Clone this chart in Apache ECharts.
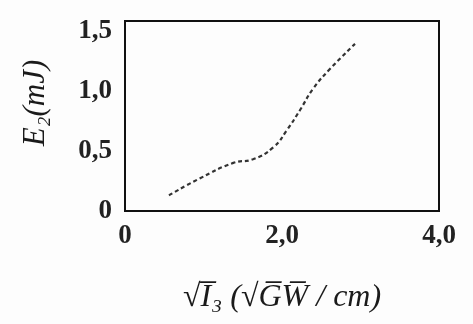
<!DOCTYPE html>
<html>
<head>
<meta charset="utf-8">
<script src="https://cdn.jsdelivr.net/npm/echarts@6/dist/echarts.min.js"></script>
<style>html,body{margin:0;padding:0;background:#fdfdfd;}#c{width:473px;height:324px;}</style>
</head>
<body>
<div id="c"></div>
<script>
const xValues = [0.56, 0.95, 1.38, 1.63, 1.89, 2.06, 2.23, 2.40, 2.61, 2.93];
const yValues = [0.13, 0.27, 0.40, 0.43, 0.53, 0.67, 0.84, 1.02, 1.18, 1.39];
const xTicks = [0, 2, 4];
const yTicks = [0, 0.5, 1.0, 1.5];

const fmt = v => v === 0 ? '0' : v.toFixed(1).replace('.', ',');
const FONT = "'Liberation Serif', 'Times New Roman', serif";
const chart = echarts.init(document.getElementById('c'));
chart.setOption({
  backgroundColor: '#fdfdfd',
  animation: false,
  grid: { left: 125, right: 34, top: 21, bottom: 113, show: true, borderColor: '#111', borderWidth: 2, backgroundColor: 'transparent' },
  xAxis: {
    type: 'value', min: 0, max: 4, interval: 2,
    axisLine: { show: true, lineStyle: { color: '#111', width: 2 } },
    axisTick: { show: false }, splitLine: { show: false },
    axisLabel: { formatter: fmt, fontFamily: FONT, fontWeight: 'bold', fontSize: 27, color: '#222', margin: 12, customValues: xTicks },
    name: '√I̅₃ (√G̅W̅ / cm)', nameLocation: 'middle', nameGap: 71,
    nameTextStyle: { fontFamily: FONT, fontStyle: 'italic', fontSize: 32, color: '#1a1a1a' }
  },
  yAxis: {
    type: 'value', min: 0, max: 1.58,
    axisLine: { show: true, lineStyle: { color: '#111', width: 2 } },
    axisTick: { show: false }, splitLine: { show: false },
    axisLabel: { formatter: fmt, fontFamily: FONT, fontWeight: 'bold', fontSize: 27, color: '#222', margin: 13, customValues: yTicks },
    name: 'E₂(mJ)', nameLocation: 'middle', nameGap: 74, nameRotate: 90,
    nameTextStyle: { fontFamily: FONT, fontStyle: 'italic', fontSize: 31, color: '#1a1a1a', padding: [0, 0, 0, 26] }
  },
  series: [{
    type: 'line', smooth: true, showSymbol: false,
    data: xValues.map((x, i) => [x, yValues[i]]),
    lineStyle: { color: '#333', width: 2.2, type: [4, 3] }
  }]
});
</script>
</body>
</html>
